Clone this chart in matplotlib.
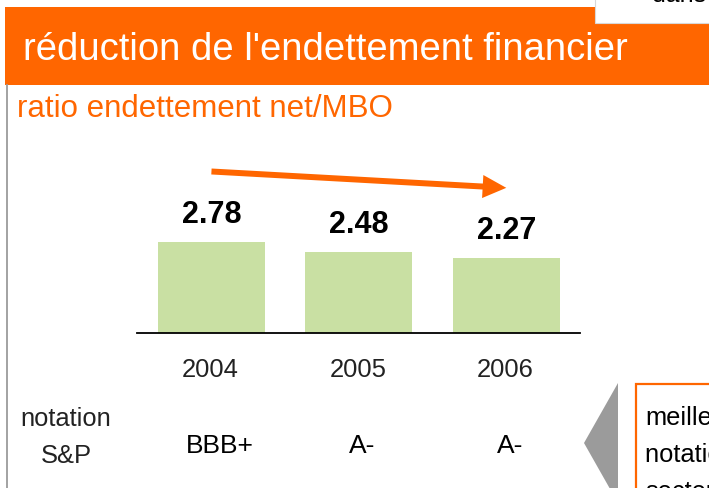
import matplotlib
matplotlib.use("Agg")
import matplotlib.pyplot as plt
from matplotlib.patches import Rectangle, Polygon

plt.rcParams['font.family'] = ['Liberation Sans', 'DejaVu Sans']

# ---- data ----
years = ['2004', '2005', '2006']
ratio_values = [2.78, 2.48, 2.27]
ratings = ['BBB+', 'A-', 'A-']
title_text = "réduction de l'endettement financier"
subtitle_text = "ratio endettement net/MBO"
row_label_lines = ["notation", "S&P"]
side_lines = ["meilleure", "notation du", "secteur"]
corner_text = "dans"

ORANGE = '#FF6600'
GREEN = '#C9E0A3'
GREY = '#9B9B9B'

W, H = 709, 488
fig = plt.figure(figsize=(W / 100, H / 100), dpi=100)
fig.patch.set_facecolor('white')

def fx(x):
    return x / W

def fy(y):
    return 1 - y / H

PT = 0.72  # points per pixel at 100 dpi

# header band
fig.patches.append(Rectangle((fx(5), fy(85)), fx(W - 5), (85 - 7) / H,
                             transform=fig.transFigure, facecolor=ORANGE,
                             edgecolor='none', zorder=1))
# white corner box at top right
fig.patches.append(Rectangle((fx(595), fy(23)), fx(W - 595) + 0.01, 23 / H + 0.01,
                             transform=fig.transFigure, facecolor='white',
                             edgecolor='#D8D8D8', linewidth=0.8, zorder=2))
fig.text(fx(652), fy(2), corner_text, fontsize=18, color='black',
         ha='left', va='baseline', zorder=3)

# left grey rule
fig.add_artist(plt.Line2D([fx(7), fx(7)], [fy(85), 0], transform=fig.transFigure,
                          color=GREY, linewidth=1.3))

fig.text(fx(23), fy(60), title_text, fontsize=27.5, color='white',
         ha='left', va='baseline', zorder=4)
fig.text(fx(17), fy(116.7), subtitle_text, fontsize=22.5, color=ORANGE,
         ha='left', va='baseline')

# ---- bar chart ----
scale = 32.7           # px per unit
base_px = 332.7
ytop = 5.5
ax_left, ax_right = 137, 580
ax = fig.add_axes([fx(ax_left), fy(base_px), (ax_right - ax_left) / W,
                   ytop * scale / H])
ax.set_facecolor('none')
x = list(range(len(years)))
ax.bar(x, ratio_values, width=0.725, color=GREEN, zorder=2)
ax.set_xlim(-0.505, 2.5)
ax.set_ylim(0, ytop)
for s in ['top', 'right', 'left']:
    ax.spines[s].set_visible(False)
ax.spines['bottom'].set_linewidth(1.3)
ax.spines['bottom'].set_color('black')
ax.spines['bottom'].set_zorder(3)
ax.set_xticks([])
ax.set_yticks([])

for i, v in enumerate(ratio_values):
    ax.annotate(f'{v:.2f}', (i, v), xytext=(0, 19 * PT), textcoords='offset points',
                ha='center', va='baseline', fontsize=22, fontweight='bold',
                color='black')
    ax.annotate(years[i], (i, 0), xytext=(-1 * PT, -44 * PT), textcoords='offset points',
                ha='center', va='baseline', fontsize=18.4, color='#222222',
                annotation_clip=False)

rating_dx = [8.5, 3, 3.5]
for i, r in enumerate(ratings):
    ax.annotate(r, (i, 0), xytext=(rating_dx[i] * PT, -(453 - base_px) * PT),
                textcoords='offset points', ha='center', va='baseline',
                fontsize=19, color='black', annotation_clip=False)

# trend arrow from first bar centre to last bar centre
ax.annotate('', xy=(2.0, 4.43), xytext=(0.0, 4.93),
            arrowprops=dict(arrowstyle='simple,head_length=1.7,head_width=1.66,tail_width=0.43',
                            fc=ORANGE, ec='none', shrinkA=0, shrinkB=0,
                            mutation_scale=10),
            annotation_clip=False)

for k, line in enumerate(row_label_lines):
    fig.text(fx(66), fy(426 + 37 * k), line, fontsize=18.4, color='#222222',
             ha='center', va='baseline')

# grey pointer and side box
fig.patches.append(Polygon([(fx(618), fy(383)), (fx(584), fy(443)), (fx(618), fy(503))],
                           closed=True, transform=fig.transFigure,
                           facecolor=GREY, edgecolor='none'))
fig.patches.append(Rectangle((fx(636), fy(520)), fx(120), (520 - 384) / H,
                             transform=fig.transFigure, facecolor='white',
                             edgecolor=ORANGE, linewidth=1.6))
for k, line in enumerate(side_lines):
    fig.text(fx(645), fy(425 + 37 * k), line, fontsize=18.4, color='black',
             ha='left', va='baseline')

fig.savefig('out.png', dpi=100)
